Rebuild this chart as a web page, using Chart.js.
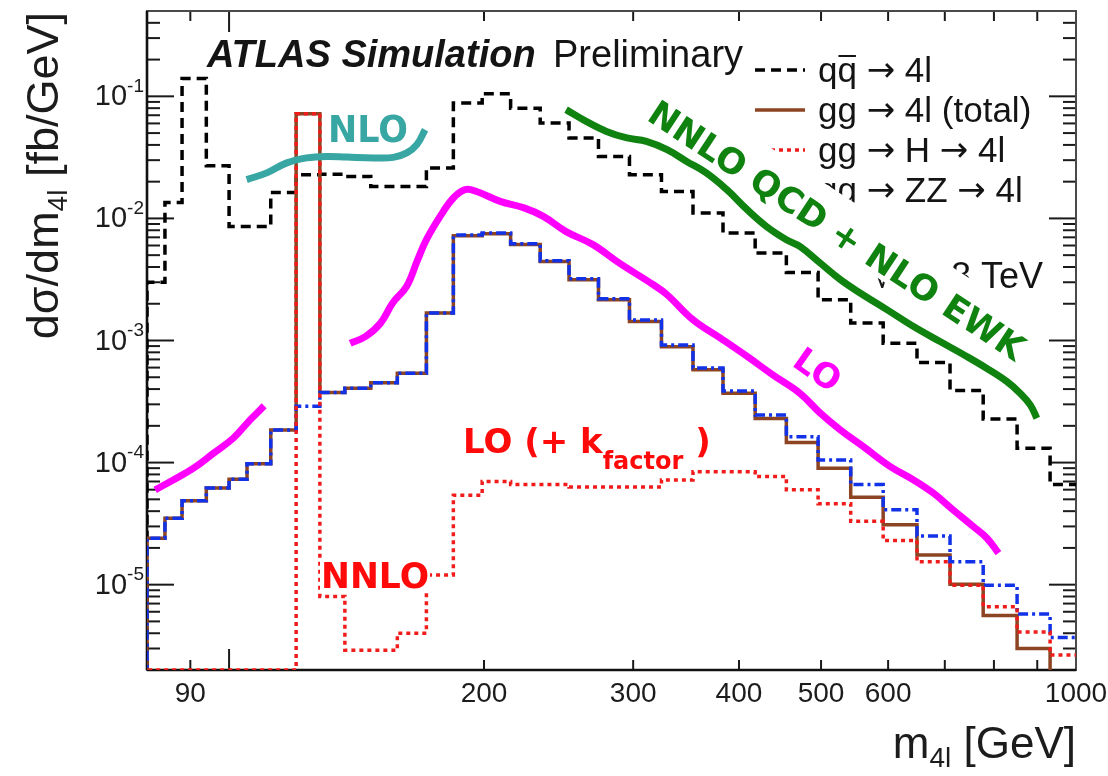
<!DOCTYPE html>
<html>
<head>
<meta charset="utf-8">
<script src="https://cdn.jsdelivr.net/npm/chart.js@4.4.0/dist/chart.umd.min.js"></script>
<style>
  html, body { margin: 0; padding: 0; background: #ffffff; }
  canvas { display: block; }
</style>
</head>
<body>
<canvas id="c" width="1108" height="776"></canvas>
<script>
// ---------------- m4l binning [GeV] ----------------
const binEdges = [80, 84, 88, 94, 100, 105, 112, 120, 128, 137, 147, 158, 171, 184, 199, 215,
  233, 252, 273, 297, 324, 353, 383, 418, 455, 496, 542, 592, 649, 710, 777, 852, 932, 1000];

// ---------------- dσ/dm4l [fb/GeV] per bin ----------------
const qqTo4l = [3.0e-3, 1.35e-2, 0.14, 0.027, 8.6e-3, 8.6e-3, 1.63e-2, 2.28e-2, 2.3e-2, 2.2e-2,
  1.83e-2, 1.83e-2, 2.59e-2, 0.088, 0.105, 0.080, 0.0605, 0.0456, 0.0322, 0.0228, 0.0166, 0.0111,
  7.6e-3, 5.2e-3, 3.6e-3, 2.16e-3, 1.39e-3, 9.5e-4, 6.6e-4, 3.9e-4, 2.27e-4, 1.31e-4, 6.6e-5];

const ggTo4lTotal = [2.4e-5, 3.5e-5, 4.86e-5, 6.2e-5, 7.3e-5, 9.8e-5, 1.85e-4, 0.072, 3.75e-4,
  4.07e-4, 4.5e-4, 5.4e-4, 1.68e-3, 7.2e-3, 7.5e-3, 6.1e-3, 4.44e-3, 3.15e-3, 2.16e-3, 1.43e-3,
  8.9e-4, 5.75e-4, 3.7e-4, 2.3e-4, 1.46e-4, 9.0e-5, 5.2e-5, 3.1e-5, 1.75e-5, 1.01e-5, 5.6e-6,
  3.0e-6, 1.0e-6];

const ggToHTo4l = [2e-6, 2e-6, 2e-6, 2e-6, 2e-6, 2e-6, 2e-6, 0.072, 8.0e-6, 2.9e-6, 2.9e-6,
  4.0e-6, 1.2e-5, 5.4e-5, 7.0e-5, 6.6e-5, 6.6e-5, 6.3e-5, 6.3e-5, 6.3e-5, 7.2e-5, 8.4e-5, 8.4e-5,
  7.7e-5, 6.0e-5, 4.6e-5, 3.3e-5, 2.3e-5, 1.54e-5, 9.9e-6, 6.6e-6, 4.1e-6, 2.65e-6];

const ggToZZTo4l = [2.4e-5, 3.5e-5, 4.86e-5, 6.2e-5, 7.3e-5, 9.8e-5, 1.85e-4, 2.9e-4, 3.75e-4,
  4.07e-4, 4.5e-4, 5.4e-4, 1.68e-3, 7.3e-3, 7.6e-3, 6.2e-3, 4.5e-3, 3.2e-3, 2.2e-3, 1.47e-3,
  9.2e-4, 5.95e-4, 3.85e-4, 2.45e-4, 1.63e-4, 1.05e-4, 6.6e-5, 4.1e-5, 2.5e-5, 1.54e-5, 9.9e-6,
  5.75e-6, 3.7e-6];

// ---------------- hand-drawn order-of-accuracy guides ----------------
const nloGuideX = [104.9, 110.8, 117, 123.5, 130.4, 137.7, 148.1, 156.3, 162.1, 166.6, 170.4];
const nloGuideY = [0.0208, 0.0236, 0.0285, 0.0313, 0.0322, 0.0318, 0.0313, 0.0316, 0.0344, 0.0402, 0.0533];

const loLowGuideX = [81.8, 85.9, 90.8, 95.8, 101.2, 105.9, 108.8, 110];
const loLowGuideY = [5.97e-5, 7.2e-5, 9.0e-5, 1.19e-4, 1.59e-4, 2.24e-4, 2.7e-4, 2.92e-4];

const loGuideX = [139, 145, 151, 156, 162, 167, 171, 177.5, 184, 190, 196, 209, 223, 235, 250, 269,
  289, 317, 329, 353, 380, 409, 439, 472, 499, 527, 561, 603, 643, 679, 716, 756, 785, 810];
const loGuideY = [9.5e-4, 1.08e-3, 1.39e-3, 2.03e-3, 2.77e-3, 4.6e-3, 6.7e-3, 1.04e-2, 1.47e-2,
  1.72e-2, 1.66e-2, 1.38e-2, 1.22e-2, 1.04e-2, 7.8e-3, 6.1e-3, 4.3e-3, 2.86e-3, 2.37e-3, 1.48e-3,
  1.05e-3, 7.4e-4, 5.2e-4, 3.7e-4, 2.54e-4, 1.85e-4, 1.35e-4, 9.3e-5, 7.2e-5, 5.6e-5, 4.1e-5,
  3.0e-5, 2.4e-5, 1.81e-5];

const nnloGuideX = [250, 264, 279, 295, 311, 329, 347, 366, 387, 409, 431, 455, 472, 499, 527, 556,
  598, 643, 691, 743, 785, 829, 859, 883, 899];
const nnloGuideY = [0.0778, 0.0624, 0.0516, 0.0456, 0.0428, 0.0366, 0.0293, 0.0236, 0.0172, 0.0118,
  8.6e-3, 6.7e-3, 5.9e-3, 4.3e-3, 3.15e-3, 2.45e-3, 1.79e-3, 1.3e-3, 9.8e-4, 7.4e-4, 5.9e-4,
  4.6e-4, 3.7e-4, 2.97e-4, 2.31e-4];

// ---------------- axes ----------------
const xMin = 80, xMax = 1000;
const yMin = 2e-6, yMax = 0.5;
const xTickLabels = [90, 200, 300, 400, 500, 600, 1000];
const xTickMarks = [90, 100, 200, 300, 400, 500, 600, 700, 800, 900, 1000];
const xLongTicks = [100, 1000];
const yDecades = [1e-5, 1e-4, 1e-3, 1e-2, 1e-1];
const yDecadeExponents = ['-5', '-4', '-3', '-2', '-1'];

// ---------------- helpers ----------------
const FLOOR = 1e-7; // below the visible range: lets a histogram rise from the frame edge
function stepPoints(edges, vals) {
  const pts = [{ x: edges[0], y: FLOOR }];
  vals.forEach((v, i) => pts.push({ x: edges[i], y: v }));
  pts.push({ x: edges[edges.length - 1], y: vals[vals.length - 1] });
  return pts;
}
function curvePoints(xs, ys) {
  return xs.map((x, i) => ({ x, y: ys[i] }));
}

const ROOT_FONT = "'Liberation Sans', Arial, sans-serif";
const ARROW_FONT = "'DejaVu Sans', sans-serif";
const HAND_FONT = "'DejaVu Sans', sans-serif";

const COL_QQ = '#000000';
const COL_TOTAL = '#8c4422';
const COL_H = '#f01c1c';
const COL_ZZ = '#1232e8';
const COL_TEAL = '#38a6a2';
const COL_MAGENTA = '#ff00ff';
const COL_GREEN = '#0f820f';
const COL_RED_TXT = '#ff0a0a';

const ARROW = '\u2192';
const legendEntries = [
  { parts: ['q', 'q\u0304', ARROW, '4l'], color: COL_QQ, dash: [10, 6] },
  { parts: ['gg', ARROW, '4l (total)'], color: COL_TOTAL, dash: [] },
  { parts: ['gg', ARROW, 'H', ARROW, '4l'], color: COL_H, dash: [4, 4] },
  { parts: ['gg', ARROW, 'ZZ', ARROW, '4l'], color: COL_ZZ, dash: [10, 4, 3, 4] }
];

function drawRuns(ctx, runs, x, y) {
  let cx = x;
  for (const r of runs) {
    ctx.font = r.font;
    ctx.fillText(r.t, cx, y + (r.dy || 0));
    cx += ctx.measureText(r.t).width;
  }
  return cx;
}
function runsWidth(ctx, runs) {
  let w = 0;
  for (const r of runs) { ctx.font = r.font; w += ctx.measureText(r.t).width; }
  return w;
}
function seg(ctx, x1, y1, x2, y2) {
  ctx.beginPath(); ctx.moveTo(x1, y1); ctx.lineTo(x2, y2); ctx.stroke();
}

// legend text with wide arrows and a barred q
function drawLegendText(ctx, parts, x, base) {
  const f = '35px ' + ROOT_FONT;
  let cx = x;
  parts.forEach((p, i) => {
    if (i > 0 && p !== 'q\u0304') { ctx.font = f; cx += ctx.measureText(' ').width; }
    if (p === ARROW) {
      ctx.font = '34px ' + ARROW_FONT;
      ctx.fillText(ARROW, cx, base - 1);
      cx += ctx.measureText(ARROW).width;
    } else if (p === 'q\u0304') {
      ctx.font = f;
      const w = ctx.measureText('q').width;
      ctx.fillText('q', cx, base);
      ctx.lineWidth = 2;
      ctx.strokeStyle = '#141414';
      seg(ctx, cx + 1, base - 26, cx + w - 1, base - 26);
      cx += w;
    } else {
      ctx.font = f;
      ctx.fillText(p, cx, base);
      cx += ctx.measureText(p).width;
    }
  });
}

// ---------------- ROOT-style frame, ticks and texts ----------------
const rootStyle = {
  id: 'rootStyle',
  beforeDatasetsDraw(chart) {
    const { ctx, chartArea: a } = chart;
    const xs = chart.scales.x, ys = chart.scales.y;
    ctx.save();
    ctx.strokeStyle = '#1a1a1a';
    ctx.lineWidth = 2;
    ctx.setLineDash([]);
    // x ticks, bottom and top edges
    xTickMarks.forEach(v => {
      const px = xs.getPixelForValue(v);
      const len = xLongTicks.includes(v) ? 21 : 10;
      seg(ctx, px, a.bottom, px, a.bottom - len);
      seg(ctx, px, a.top, px, a.top + len);
    });
    // y ticks, left and right edges
    for (let e = -6; e <= -1; e++) {
      for (let m = 1; m <= 9; m++) {
        const v = m * Math.pow(10, e);
        if (v < yMin * 0.999 || v > yMax * 1.001) continue;
        const py = ys.getPixelForValue(v);
        const len = m === 1 ? 27 : 13;
        seg(ctx, a.left, py, a.left + len, py);
        seg(ctx, a.right, py, a.right - len, py);
      }
    }
    // frame
    ctx.strokeStyle = '#4a4a4a';
    ctx.lineWidth = 2;
    ctx.strokeRect(a.left, a.top, a.right - a.left, a.bottom - a.top);
    ctx.strokeStyle = '#111111';
    ctx.lineWidth = 2.6;
    seg(ctx, a.left, a.top, a.left, a.bottom);
    seg(ctx, a.left, a.bottom, a.right, a.bottom);

    // legend
    ctx.textAlign = 'left';
    ctx.textBaseline = 'alphabetic';
    legendEntries.forEach((en, i) => {
      const base = 82 + 40 * i;
      const mid = base - 12;
      ctx.strokeStyle = en.color;
      ctx.lineWidth = 3.5;
      ctx.setLineDash(en.dash);
      seg(ctx, 755, mid, 805, mid);
      ctx.setLineDash([]);
      ctx.fillStyle = '#141414';
      drawLegendText(ctx, en.parts, 818, base);
    });

    // centre-of-mass energy
    ctx.fillStyle = '#141414';
    ctx.font = '36px ' + ROOT_FONT;
    ctx.textAlign = 'right';
    ctx.fillText('\u221as = 8 TeV', 1043, 288);
    ctx.textAlign = 'left';

    // NNLO QCD + NLO EWK label on its white patch
    ctx.save();
    ctx.translate(835, 233);
    ctx.rotate(33.3 * Math.PI / 180);
    ctx.fillStyle = '#ffffff';
    ctx.fillRect(-230, -36, 460, 50);
    ctx.fillStyle = COL_GREEN;
    ctx.font = 'bold 35px ' + HAND_FONT;
    ctx.textAlign = 'center';
    ctx.textBaseline = 'middle';
    ctx.fillText('NNLO QCD + NLO EWK', 0, 0, 445);
    ctx.restore();

    ctx.restore();
  },
  afterDatasetsDraw(chart) {
    const { ctx, chartArea: a } = chart;
    const xs = chart.scales.x, ys = chart.scales.y;
    ctx.save();
    ctx.setLineDash([]);
    ctx.fillStyle = '#1c1c1c';

    // x tick labels
    ctx.font = '28px ' + ROOT_FONT;
    ctx.textAlign = 'center';
    ctx.textBaseline = 'middle';
    xTickLabels.forEach(v => ctx.fillText(String(v), xs.getPixelForValue(v), 694));

    // y tick labels: 10^n
    ctx.textAlign = 'left';
    yDecades.forEach((v, i) => {
      const py = ys.getPixelForValue(v);
      const runs = [
        { t: '10', font: '29px ' + ROOT_FONT, dy: 1 },
        { t: yDecadeExponents[i], font: '19px ' + ROOT_FONT, dy: -10 }
      ];
      const w = runsWidth(ctx, runs);
      drawRuns(ctx, runs, 144 - w, py);
    });

    // axis titles
    ctx.textBaseline = 'alphabetic';
    const xTitle = [
      { t: 'm', font: '44px ' + ROOT_FONT },
      { t: '4l', font: '28px ' + ROOT_FONT, dy: 9 },
      { t: ' [GeV]', font: '44px ' + ROOT_FONT }
    ];
    drawRuns(ctx, xTitle, a.right - runsWidth(ctx, xTitle), 758);

    const yTitle = [
      { t: 'd\u03c3/dm', font: '45px ' + ROOT_FONT },
      { t: '4l', font: '28px ' + ROOT_FONT, dy: 9 },
      { t: ' [fb/GeV]', font: '45px ' + ROOT_FONT }
    ];
    ctx.save();
    ctx.translate(58, a.top + 1);
    ctx.rotate(-Math.PI / 2);
    drawRuns(ctx, yTitle, -runsWidth(ctx, yTitle), 0);
    ctx.restore();

    // experiment label
    ctx.fillStyle = '#141414';
    ctx.font = 'italic bold 38px ' + ROOT_FONT;
    ctx.fillText('ATLAS Simulation', 207, 67, 336);
    ctx.font = '38px ' + ROOT_FONT;
    ctx.fillText('Preliminary', 553, 67, 193);

    // LO label along the magenta guide
    ctx.save();
    ctx.translate(816, 372);
    ctx.rotate(35 * Math.PI / 180);
    ctx.fillStyle = COL_MAGENTA;
    ctx.font = 'bold 34px ' + HAND_FONT;
    ctx.textAlign = 'center';
    ctx.textBaseline = 'middle';
    ctx.fillText('LO', 0, 0);
    ctx.restore();

    // NLO label
    ctx.fillStyle = COL_TEAL;
    ctx.font = 'bold 38px ' + HAND_FONT;
    ctx.textBaseline = 'alphabetic';
    ctx.fillText('NLO', 328, 142, 80);

    // LO (+ k_factor) label
    ctx.fillStyle = COL_RED_TXT;
    const kRuns = [
      { t: 'LO (+ k', font: 'bold 34px ' + HAND_FONT },
      { t: 'factor', font: 'bold 24px ' + HAND_FONT, dy: 16 },
      { t: ' )', font: 'bold 34px ' + HAND_FONT }
    ];
    drawRuns(ctx, kRuns, 463, 453);

    // NNLO label on a white patch
    ctx.font = 'bold 35px ' + HAND_FONT;
    const nw = Math.min(ctx.measureText('NNLO').width, 108);
    ctx.fillStyle = '#ffffff';
    ctx.fillRect(320, 559, nw + 2, 31);
    ctx.fillStyle = COL_RED_TXT;
    ctx.fillText('NNLO', 321, 588, 108);

    ctx.restore();
  }
};

// ---------------- chart ----------------
const histStyle = (color, dash, width) => ({
  borderColor: color, borderDash: dash, borderWidth: width,
  stepped: 'before', fill: false, pointRadius: 0, tension: 0,
  borderCapStyle: 'butt', borderJoinStyle: 'miter'
});
const guideStyle = (color) => ({
  borderColor: color, borderWidth: 7, fill: false, pointRadius: 0,
  tension: 0.4, borderCapStyle: 'butt', borderJoinStyle: 'round'
});

new Chart(document.getElementById('c').getContext('2d'), {
  type: 'line',
  data: {
    datasets: [
      Object.assign({ label: 'NNLO QCD + NLO EWK', data: curvePoints(nnloGuideX, nnloGuideY), order: 0 }, guideStyle(COL_GREEN)),
      Object.assign({ label: 'LO', data: curvePoints(loGuideX, loGuideY), order: 0 }, guideStyle(COL_MAGENTA)),
      Object.assign({ label: 'LO (low mass)', data: curvePoints(loLowGuideX, loLowGuideY), order: 0 }, guideStyle(COL_MAGENTA)),
      Object.assign({ label: 'NLO', data: curvePoints(nloGuideX, nloGuideY), order: 0 }, guideStyle(COL_TEAL)),
      Object.assign({ label: 'gg \u2192 H \u2192 4l', data: stepPoints(binEdges, ggToHTo4l), order: 1 }, histStyle(COL_H, [4, 4], 3.5)),
      Object.assign({ label: 'gg \u2192 ZZ \u2192 4l', data: stepPoints(binEdges, ggToZZTo4l), order: 2 }, histStyle(COL_ZZ, [10, 4, 3, 4], 3.5)),
      Object.assign({ label: 'gg \u2192 4l (total)', data: stepPoints(binEdges, ggTo4lTotal), order: 3 }, histStyle(COL_TOTAL, [], 3.5)),
      Object.assign({ label: 'qq \u2192 4l', data: stepPoints(binEdges, qqTo4l), order: 4 }, histStyle(COL_QQ, [10, 6], 3.5))
    ]
  },
  options: {
    responsive: false,
    animation: false,
    devicePixelRatio: 1,
    layout: { padding: { left: 147, right: 32, top: 11, bottom: 106 } },
    plugins: { legend: { display: false }, tooltip: { enabled: false } },
    events: [],
    scales: {
      x: { type: 'logarithmic', min: xMin, max: xMax, display: false },
      y: { type: 'logarithmic', min: yMin, max: yMax, display: false }
    }
  },
  plugins: [rootStyle]
});
</script>
</body>
</html>
